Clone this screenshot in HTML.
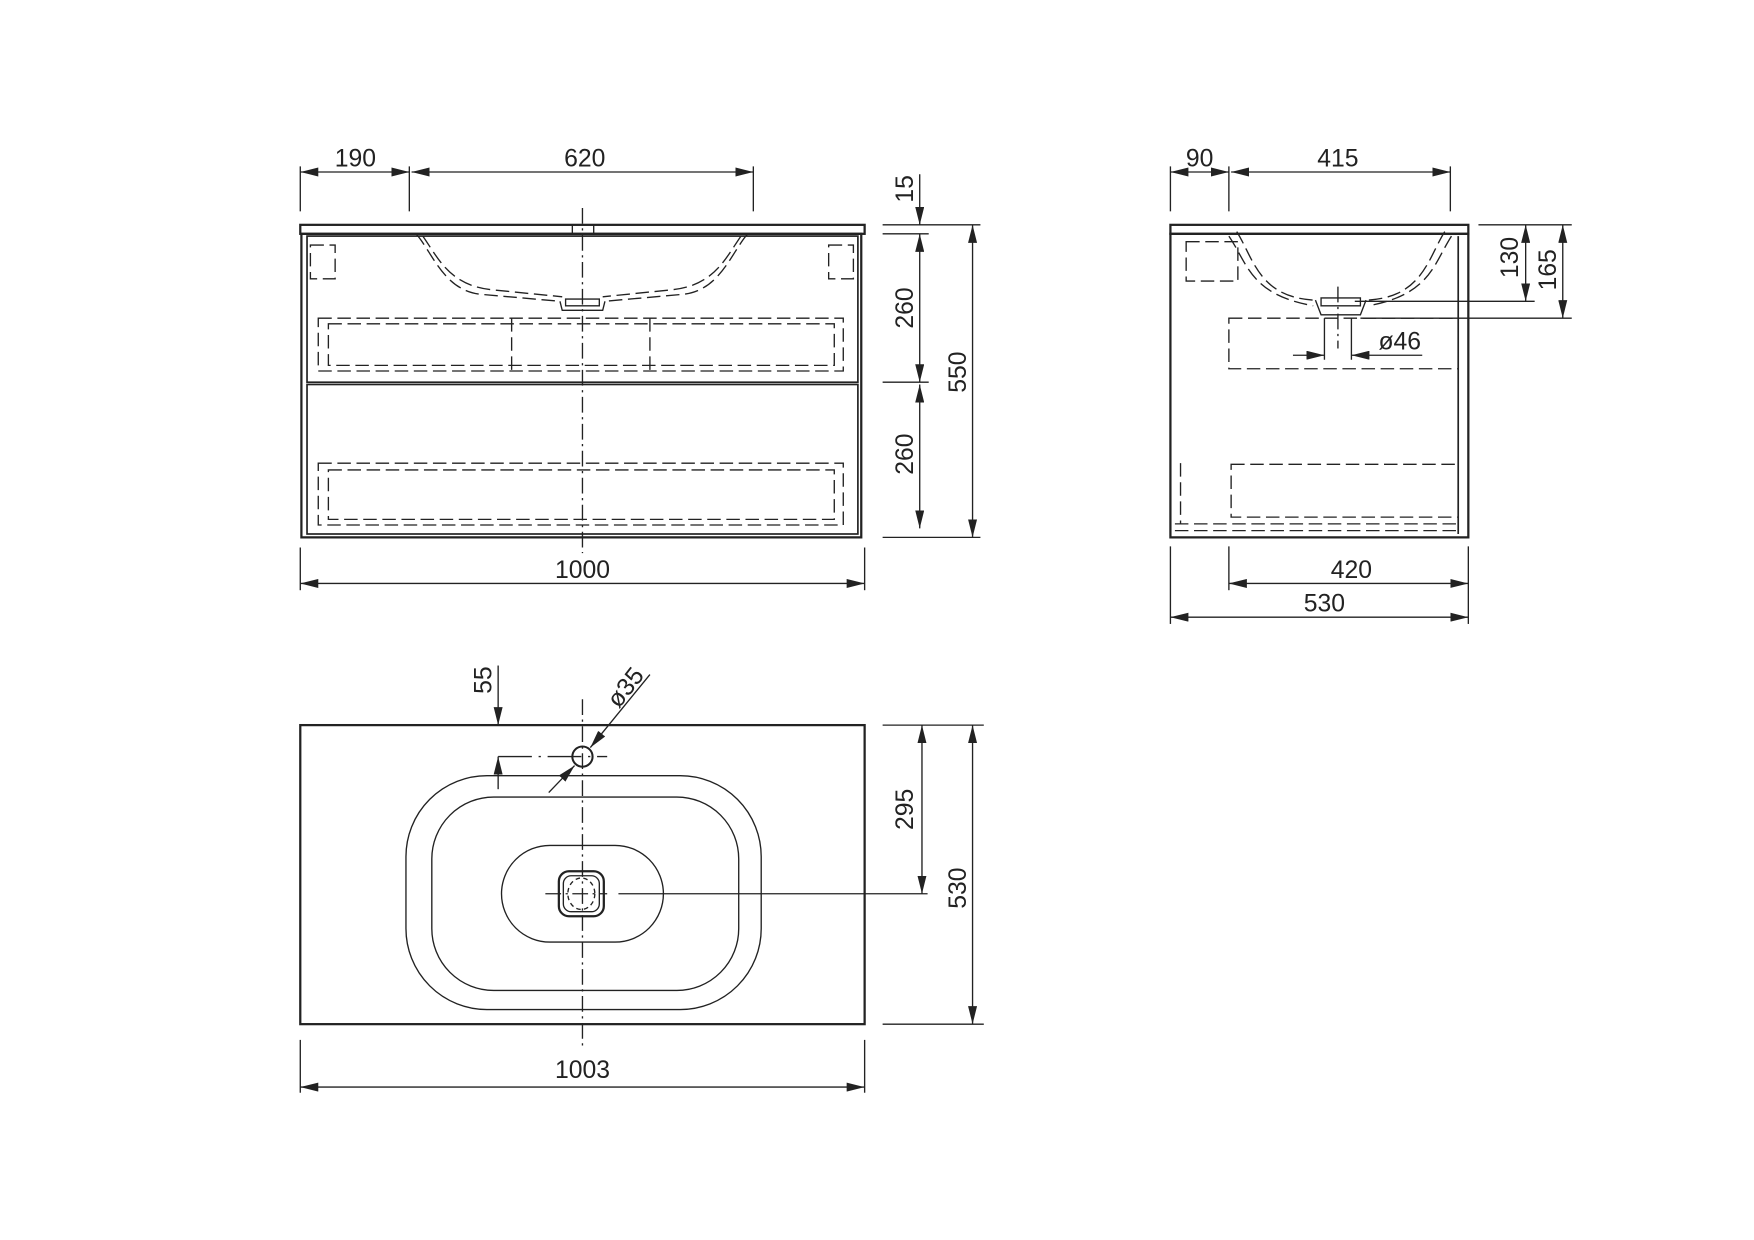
<!DOCTYPE html>
<html><head><meta charset="utf-8"><style>
html,body{margin:0;padding:0;background:#fff;}
svg{display:block}
text{font-family:"Liberation Sans",sans-serif;font-size:22px;fill:#222;text-anchor:middle}
</style></head><body>
<svg width="1754" height="1240" viewBox="0 0 1560 1103" xmlns="http://www.w3.org/2000/svg">
<defs>
<marker id="a" viewBox="0 0 10 10" refX="10" refY="5" markerWidth="16" markerHeight="8" markerUnits="userSpaceOnUse" orient="auto-start-reverse" preserveAspectRatio="none"><path d="M0,0L10,5L0,10z" fill="#222"/></marker>
</defs>
<g stroke="#222" fill="none" stroke-width="1.2">
<!-- FRONT VIEW -->
<rect x="267" y="200" width="502" height="8" stroke-width="2"/>
<rect x="268" y="208" width="498" height="270" stroke-width="2"/>
<rect x="273" y="210" width="490" height="130" stroke-width="1.5"/>
<rect x="273" y="342" width="490" height="133" stroke-width="1.5"/>
<line x1="518" y1="185" x2="518" y2="492" stroke-dasharray="14,4,2,4"/>
<rect x="509" y="200" width="19" height="8"/>
<g stroke-dasharray="12,5">
<path d="M370,208 C385,225 395,260 430,262 L498,268"/>
<path d="M376,210 C390,230 400,255 440,258 L500,264"/>
<path d="M665,208 C650,225 640,260 605,262 L538,268"/>
<path d="M659,210 C645,230 635,255 595,258 L536,264"/>
<rect x="283" y="283" width="467" height="47"/>
<line x1="455" y1="283" x2="455" y2="330"/><line x1="578" y1="283" x2="578" y2="330"/>
<rect x="292" y="288" width="450" height="37"/>
<rect x="283" y="412" width="467" height="55"/>
<rect x="292" y="418" width="450" height="44"/>
<rect x="276" y="218" width="22" height="30"/>
<rect x="737" y="218" width="22" height="30"/>
</g>
<path d="M498,268 L500,276 L536,276 L538,268 M503,266 L533,266 L533,272 L503,272 Z"/>
<!-- front dims -->
<line x1="267" y1="148" x2="267" y2="188"/><line x1="364" y1="148" x2="364" y2="188"/><line x1="670" y1="148" x2="670" y2="188"/>
<line x1="267" y1="153" x2="364" y2="153" marker-start="url(#a)" marker-end="url(#a)"/>
<line x1="366" y1="153" x2="670" y2="153" marker-start="url(#a)" marker-end="url(#a)"/>
<line x1="785" y1="200" x2="872" y2="200"/><line x1="785" y1="208" x2="826" y2="208"/>
<line x1="785" y1="340" x2="826" y2="340"/><line x1="785" y1="478" x2="872" y2="478"/>
<line x1="818" y1="155" x2="818" y2="200" marker-end="url(#a)"/>
<line x1="818" y1="208" x2="818" y2="340" marker-start="url(#a)" marker-end="url(#a)"/>
<line x1="818" y1="342" x2="818" y2="470" marker-start="url(#a)" marker-end="url(#a)"/>
<line x1="865" y1="200" x2="865" y2="478" marker-start="url(#a)" marker-end="url(#a)"/>
<line x1="267" y1="487" x2="267" y2="525"/><line x1="769" y1="487" x2="769" y2="525"/>
<line x1="267" y1="519" x2="769" y2="519" marker-start="url(#a)" marker-end="url(#a)"/>

<!-- SIDE VIEW -->
<rect x="1041" y="200" width="265" height="8" stroke-width="2"/>
<rect x="1041" y="208" width="265" height="270" stroke-width="2"/>
<line x1="1297" y1="210" x2="1297" y2="475" stroke-width="1.5"/>
<g stroke-dasharray="12,5">
<path d="M1100,206 C1115,230 1120,265 1170,267"/>
<path d="M1093,210 C1110,235 1112,262 1168,272"/>
<path d="M1285,206 C1270,230 1265,265 1215,267"/>
<path d="M1291,210 C1275,235 1272,262 1217,272"/>
<rect x="1093" y="283" width="204" height="45"/>
<rect x="1095" y="413" width="202" height="47"/>
<line x1="1045" y1="466" x2="1297" y2="466"/><line x1="1045" y1="472" x2="1297" y2="472"/>
<rect x="1055" y="215" width="46" height="35"/>
<line x1="1050" y1="412" x2="1050" y2="466"/>
</g>
<path d="M1170,267 L1175,280 L1210,280 L1215,267 M1175,265 L1210,265 L1210,272 L1175,272 Z"/>
<!-- side dims -->
<line x1="1041" y1="148" x2="1041" y2="188"/><line x1="1093" y1="148" x2="1093" y2="188"/><line x1="1290" y1="148" x2="1290" y2="188"/>
<line x1="1041" y1="153" x2="1093" y2="153" marker-start="url(#a)" marker-end="url(#a)"/>
<line x1="1095" y1="153" x2="1290" y2="153" marker-start="url(#a)" marker-end="url(#a)"/>
<line x1="1315" y1="200" x2="1398" y2="200"/>
<line x1="1205" y1="268" x2="1365" y2="268"/>
<line x1="1210" y1="283" x2="1398" y2="283"/>
<line x1="1357" y1="200" x2="1357" y2="268" marker-start="url(#a)" marker-end="url(#a)"/>
<line x1="1390" y1="200" x2="1390" y2="283" marker-start="url(#a)" marker-end="url(#a)"/>
<line x1="1178" y1="283" x2="1178" y2="320"/><line x1="1202" y1="283" x2="1202" y2="320"/>
<line x1="1190" y1="255" x2="1190" y2="310" stroke-dasharray="14,4,2,4"/>
<line x1="1150" y1="316" x2="1178" y2="316" marker-end="url(#a)"/>
<line x1="1265" y1="316" x2="1202" y2="316" marker-end="url(#a)"/>
<line x1="1041" y1="486" x2="1041" y2="555"/><line x1="1093" y1="486" x2="1093" y2="525"/><line x1="1306" y1="486" x2="1306" y2="555"/>
<line x1="1093" y1="519" x2="1306" y2="519" marker-start="url(#a)" marker-end="url(#a)"/>
<line x1="1041" y1="549" x2="1306" y2="549" marker-start="url(#a)" marker-end="url(#a)"/>

<!-- TOP VIEW -->
<rect x="267" y="645" width="502" height="266" stroke-width="2"/>
<rect x="361" y="690" width="316" height="208" rx="72" ry="72"/>
<rect x="384" y="709" width="273" height="172" rx="55" ry="55"/>
<rect x="446" y="752" width="144" height="86" rx="43" ry="43"/>
<rect x="497" y="775" width="40" height="40" rx="9" stroke-width="2"/>
<rect x="501" y="779" width="32" height="32" rx="7"/>
<ellipse cx="517" cy="795" rx="12" ry="14" stroke-dasharray="4,3"/>
<line x1="518" y1="622" x2="518" y2="930" stroke-dasharray="14,4,2,4"/>
<line x1="485" y1="795" x2="540" y2="795" stroke-dasharray="14,4,2,4"/>
<line x1="550" y1="795" x2="825" y2="795"/>
<ellipse cx="518" cy="673" rx="9" ry="9" stroke-width="1.8"/>
<line x1="443" y1="673" x2="540" y2="673" stroke-dasharray="30,6,2,6"/>
<line x1="443" y1="592" x2="443" y2="645" marker-end="url(#a)"/>
<line x1="443" y1="702" x2="443" y2="673" marker-end="url(#a)"/>
<line x1="578" y1="600" x2="525" y2="665" marker-end="url(#a)"/>
<line x1="488" y1="705" x2="511" y2="681" marker-end="url(#a)"/>
<line x1="785" y1="645" x2="875" y2="645"/><line x1="785" y1="911" x2="875" y2="911"/>
<line x1="820" y1="645" x2="820" y2="795" marker-start="url(#a)" marker-end="url(#a)"/>
<line x1="865" y1="645" x2="865" y2="911" marker-start="url(#a)" marker-end="url(#a)"/>
<line x1="267" y1="925" x2="267" y2="972"/><line x1="769" y1="925" x2="769" y2="972"/>
<line x1="267" y1="967" x2="769" y2="967" marker-start="url(#a)" marker-end="url(#a)"/>
</g>
<text x="316" y="148">190</text>
<text x="520" y="148">620</text>
<text transform="translate(812,168) rotate(-90)">15</text>
<text transform="translate(812,274) rotate(-90)">260</text>
<text transform="translate(812,404) rotate(-90)">260</text>
<text transform="translate(859,331) rotate(-90)">550</text>
<text x="518" y="514">1000</text>
<text x="1067" y="148">90</text>
<text x="1190" y="148">415</text>
<text transform="translate(1350,229) rotate(-90)">130</text>
<text transform="translate(1384,240) rotate(-90)">165</text>
<text x="1245" y="311">ø46</text>
<text x="1202" y="514">420</text>
<text x="1178" y="544">530</text>
<text transform="translate(437,605) rotate(-90)">55</text>
<text transform="translate(562,616) rotate(-52)">ø35</text>
<text transform="translate(812,720) rotate(-90)">295</text>
<text transform="translate(859,790) rotate(-90)">530</text>
<text x="518" y="959">1003</text>
</svg>
</body></html>
